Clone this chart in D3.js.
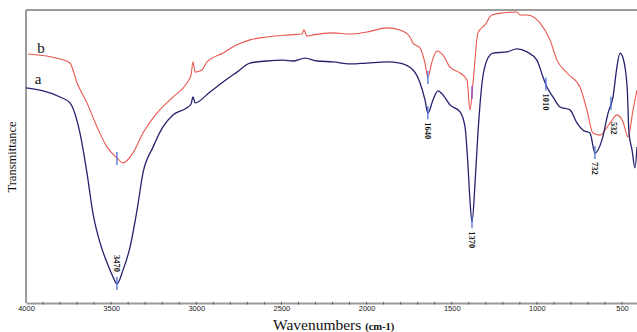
<!DOCTYPE html>
<html>
<head>
<meta charset="utf-8">
<script src="https://cdn.jsdelivr.net/npm/d3@7"></script>
<style>
  body { margin: 0; background: #fff; }
  svg { display: block; }
</style>
</head>
<body>
<div id="chart"></div>
<script>
// FTIR spectra, values (transmittance in arbitrary units)
const waveA = [4000,3800,3742,3683,3642,3607,3565,3524,3489,3466,3430,3389,3348,3313,3254,3196,3137,3055,3031,3019,3007,2920,2843,2761,2685,2585,2491,2432,2362,2291,2197,2097,1998,1880,1804,1727,1686,1657,1640,1610,1581,1551,1510,1451,1422,1404,1393,1381,1363,1346,1322,1293,1258,1176,1117,1058,1000,964,941,905,864,806,764,729,688,659,618,582,553,530,512,494,470,459,441,424,412];
const transA = [73.4,70.3,68.3,58.0,44.4,30.7,20.5,13.7,8.9,6.5,11.3,19.1,31.7,44.4,53.2,60.1,64.2,66.6,67.9,70.3,68.3,72.0,75.4,78.8,81.9,82.6,82.9,82.6,83.6,82.6,82.3,81.6,81.9,82.3,81.9,79.5,75.1,69.3,64.8,69.3,72.4,71.0,67.6,65.2,60.1,46.4,35.2,27.6,41.0,58.0,75.1,82.9,85.3,85.7,86.7,85.7,82.9,77.1,73.7,70.3,66.9,65.9,61.4,59.0,58.0,51.2,55.6,64.8,70.3,80.5,85.3,83.6,73.7,58.0,52.2,46.1,53.2];

const waveB = [3988,3800,3742,3700,3642,3583,3524,3466,3430,3372,3313,3231,3137,3055,3031,3019,3007,2967,2937,2843,2761,2685,2585,2450,2380,2368,2350,2315,2197,2097,1998,1880,1804,1745,1727,1686,1657,1640,1616,1587,1551,1510,1451,1410,1393,1375,1346,1305,1264,1199,1117,1099,1058,982,923,882,823,747,706,671,630,571,530,494,465,435,412];
const transB = [85.0,83.3,81.9,75.1,68.3,60.1,53.2,49.5,47.8,51.2,58.0,64.8,70.3,75.1,77.8,82.3,78.8,79.5,82.3,85.3,88.1,89.8,90.8,91.5,91.8,93.2,91.1,91.5,92.2,91.8,92.5,93.9,93.2,90.8,88.7,87.0,81.9,77.1,82.3,86.0,84.6,80.5,78.5,76.1,65.9,75.1,92.2,94.9,98.3,99.0,99.3,98.3,98.3,95.6,89.8,82.9,78.5,73.7,65.9,58.0,57.3,61.4,64.2,61.8,56.7,65.9,72.7];

// peak marks: label text, position on the axis, which curves get a tick
const peakLabels = ["3470", "1640", "1370", "1010", "732", "532"];
const peakWaves = [3466, 1640, 1381, 947, 659, 565];
const peakOnB = [true, true, true, false, false, false];
const peakLabelAbove = [true, false, false, false, false, false];

const xTicks = [4000, 3500, 3000, 2500, 2000, 1500, 1000, 500];

const svgWidth = 637;
const svgHeight = 332;
const margin = { top: 10, right: 0, bottom: 29, left: 26 };

const svg = d3.select("#chart")
    .append("svg")
    .attr("width", svgWidth)
    .attr("height", svgHeight);

const x = d3.scaleLinear()
    .domain([4000, 412])
    .range([margin.left, svgWidth - margin.right]);

const y = d3.scaleLinear()
    .domain([0, 100])
    .range([svgHeight - margin.bottom, margin.top]);

const axisColor = "#9b9b9b";

// frame: top and left lines
svg.append("line")
    .attr("x1", margin.left).attr("x2", svgWidth)
    .attr("y1", y(100)).attr("y2", y(100))
    .attr("stroke", axisColor).attr("stroke-width", 2);
svg.append("line")
    .attr("x1", margin.left).attr("x2", margin.left)
    .attr("y1", y(100)).attr("y2", y(0))
    .attr("stroke", axisColor).attr("stroke-width", 2);

// bottom axis
const xAxis = svg.append("g")
    .attr("transform", `translate(0,${y(0)})`)
    .call(d3.axisBottom(x).tickValues(xTicks).tickSize(0).tickPadding(3).tickFormat(d3.format("d")));
xAxis.select(".domain").attr("stroke", axisColor).attr("stroke-width", 2);
xAxis.selectAll("text")
    .attr("font-family", "Liberation Sans, Arial, sans-serif")
    .attr("font-size", 7.5)
    .attr("fill", "#222");

// minor ticks every 100
svg.append("g")
    .selectAll("line")
    .data(d3.range(3900, 412, -100))
    .enter()
    .append("line")
    .attr("x1", d => x(d)).attr("x2", d => x(d))
    .attr("y1", y(0) - 1).attr("y2", y(0) + 1.5)
    .attr("stroke", "#555").attr("stroke-width", 1);

const line = d3.line()
    .x(d => x(d[0]))
    .y(d => y(d[1]))
    .curve(d3.curveMonotoneX);

const seriesA = waveA.map((w, i) => [w, transA[i]]);
const seriesB = waveB.map((w, i) => [w, transB[i]]);

svg.append("path")
    .datum(seriesB)
    .attr("fill", "none")
    .attr("stroke", "#e8564f")
    .attr("stroke-width", 1.1)
    .attr("d", line);

svg.append("path")
    .datum(seriesA)
    .attr("fill", "none")
    .attr("stroke", "#25236e")
    .attr("stroke-width", 1.3)
    .attr("d", line);

// value of a series at a wavenumber (linear between read points)
function valueAt(waves, vals, w) {
    for (let i = 0; i < waves.length - 1; i++) {
        if (waves[i] >= w && waves[i + 1] <= w) {
            const t = (waves[i] - w) / (waves[i] - waves[i + 1]);
            return vals[i] + t * (vals[i + 1] - vals[i]);
        }
    }
    return vals[vals.length - 1];
}

const markColor = "#4f6fd6";

peakWaves.forEach((w, i) => {
    const ya = y(valueAt(waveA, transA, w));
    svg.append("line")
        .attr("x1", x(w)).attr("x2", x(w))
        .attr("y1", ya - 7).attr("y2", ya + 6)
        .attr("stroke", markColor).attr("stroke-width", 1.3);

    if (peakOnB[i]) {
        const yb = y(valueAt(waveB, transB, w));
        svg.append("line")
            .attr("x1", x(w)).attr("x2", x(w))
            .attr("y1", yb - 6).attr("y2", yb + 7)
            .attr("stroke", i === 2 ? "#8a4fd0" : markColor).attr("stroke-width", 1.3);
    }

    // the last label sits lower so it clears the rising curve
    const gap = i === peakLabels.length - 1 ? 18 : 9;
    const ly = peakLabelAbove[i] ? ya - 12 : ya + gap;
    svg.append("text")
        .attr("transform", `translate(${x(w) + (i === peakLabels.length - 1 ? 3 : 0)},${ly}) rotate(90)`)
        .attr("text-anchor", peakLabelAbove[i] ? "end" : "start")
        .attr("dy", "0.35em")
        .attr("font-family", "Liberation Serif, Times New Roman, serif")
        .attr("font-weight", "bold")
        .attr("font-size", 8.5)
        .attr("fill", "#111")
        .text(peakLabels[i]);
});

// curve names
svg.append("text")
    .attr("x", 41).attr("y", 53)
    .attr("text-anchor", "middle")
    .attr("font-family", "Liberation Serif, Times New Roman, serif")
    .attr("font-size", 15)
    .attr("fill", "#111")
    .text("b");
svg.append("text")
    .attr("x", 38).attr("y", 84)
    .attr("text-anchor", "middle")
    .attr("font-family", "Liberation Serif, Times New Roman, serif")
    .attr("font-size", 15)
    .attr("fill", "#111")
    .text("a");

// axis titles
const xTitle = svg.append("text")
    .attr("x", 273).attr("y", 330)
    .attr("font-family", "Liberation Serif, Times New Roman, serif")
    .attr("fill", "#111");
xTitle.append("tspan").attr("font-size", 15.5).text("Wavenumbers ");
xTitle.append("tspan").attr("font-size", 10.5).attr("font-weight", "bold").text("(cm-1)");

svg.append("text")
    .attr("transform", "translate(16,157) rotate(-90)")
    .attr("text-anchor", "middle")
    .attr("font-family", "Liberation Serif, Times New Roman, serif")
    .attr("font-size", 12.5)
    .attr("fill", "#111")
    .text("Transmittance");
</script>
</body>
</html>
